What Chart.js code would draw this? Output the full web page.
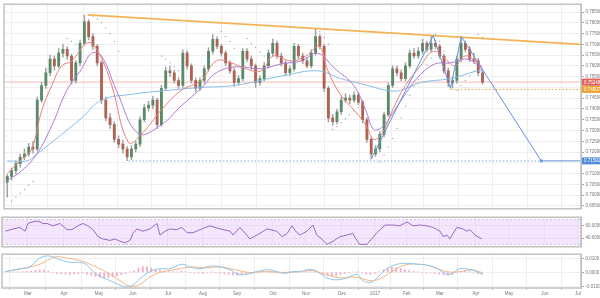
<!DOCTYPE html>
<html>
<head>
<meta charset="utf-8">
<script src="https://cdn.jsdelivr.net/npm/chart.js@4.4.0/dist/chart.umd.min.js"></script>
<style>
  html, body { margin: 0; padding: 0; background: #fff; }
  body { width: 600px; height: 298px; position: relative; overflow: hidden; }
  .pane { position: absolute; left: 0; width: 600px; }
  canvas { display: block; }
</style>
</head>
<body>
<div class="pane" style="top:0;height:213px"><canvas id="mainChart" width="600" height="213"></canvas></div>
<div class="pane" style="top:213px;height:38px"><canvas id="rsiChart" width="600" height="38"></canvas></div>
<div class="pane" style="top:250px;height:48px"><canvas id="macdChart" width="600" height="48"></canvas></div>
<script>
// x axis is in bar index units (one candle per index)
const monthAt = [5.28, 13.66, 21.81, 29.72, 37.86, 46.01, 53.92, 62.30, 69.98, 78.36, 86.04, 93.48, 101.16, 109.54, 117.22, 125.60, 133.28];
const monthNames = ['Mar', 'Apr', 'May', 'Jun', 'Jul', 'Aug', 'Sep', 'Oct', 'Nov', 'Dec', '2017', 'Feb', 'Mar', 'Apr', 'May', 'Jun', 'Jul'];
const X_MIN = -0.77, X_MAX = 134;

// price panel
const priceTicks = [0.695, 0.700, 0.705, 0.710, 0.715, 0.720, 0.725, 0.730, 0.735, 0.740, 0.745, 0.750, 0.755, 0.760, 0.765, 0.770, 0.775, 0.780, 0.785];
const firstOpen = 0.7060;
const closes = [
  .7087, .7114, .7146, .7177, .7191, .7223, .7214, .7441, .7509, .7568,
  .7632, .7600, .7659, .7677, .7646, .7532, .7614, .7705, .7805, .7736,
  .7691, .7614, .7441, .7359, .7327, .7259, .7237, .7214, .7177, .7214,
  .7237, .7350, .7405, .7418, .7441, .7327, .7496, .7577, .7568, .7532,
  .7509, .7659, .7600, .7532, .7496, .7532, .7586, .7668, .7723, .7691,
  .7659, .7614, .7577, .7523, .7541, .7668, .7632, .7600, .7523, .7541,
  .7600, .7659, .7705, .7646, .7614, .7568, .7586, .7691, .7646, .7623,
  .7600, .7659, .7736, .7691, .7496, .7359, .7341, .7387, .7441, .7450,
  .7441, .7464, .7432, .7350, .7259, .7191, .7214, .7282, .7373, .7509,
  .7586, .7568, .7541, .7600, .7659, .7646, .7668, .7705, .7677, .7705,
  .7691, .7646, .7577, .7523, .7532, .7632, .7705, .7677, .7632, .7623,
  .7568, .75248
];
const highs = [
  .7095, .7125, .7160, .7190, .7215, .7240, .7250, .7455, .7525, .7590,
  .7650, .7645, .7680, .7700, .7690, .7655, .7625, .7720, .7836, .7815,
  .7750, .7700, .7625, .7455, .7380, .7340, .7275, .7255, .7225, .7230,
  .7250, .7365, .7420, .7435, .7460, .7450, .7510, .7595, .7600, .7580,
  .7545, .7675, .7670, .7610, .7545, .7545, .7600, .7685, .7745, .7735,
  .7700, .7670, .7625, .7590, .7555, .7680, .7680, .7645, .7610, .7555,
  .7615, .7675, .7725, .7715, .7660, .7625, .7600, .7705, .7700, .7660,
  .7640, .7675, .7773, .7745, .7700, .7505, .7375, .7400, .7455, .7470,
  .7465, .7480, .7475, .7440, .7360, .7270, .7230, .7295, .7385, .7520,
  .7600, .7600, .7580, .7615, .7675, .7680, .7685, .7725, .7715, .7741,
  .7720, .7700, .7655, .7590, .7545, .7645, .7735, .7715, .7690, .7660,
  .7635, .7575
];
const lows = [
  .6990, .7070, .7100, .7130, .7165, .7180, .7195, .7205, .7430, .7495,
  .7555, .7580, .7590, .7640, .7630, .7515, .7520, .7600, .7695, .7720,
  .7675, .7600, .7425, .7345, .7310, .7245, .7220, .7195, .7160, .7165,
  .7200, .7225, .7340, .7390, .7400, .7310, .7320, .7485, .7550, .7520,
  .7495, .7500, .7585, .7520, .7480, .7485, .7520, .7575, .7655, .7680,
  .7645, .7600, .7565, .7505, .7510, .7530, .7620, .7585, .7500, .7510,
  .7530, .7590, .7645, .7635, .7600, .7555, .7555, .7575, .7635, .7610,
  .7590, .7590, .7650, .7680, .7480, .7340, .7325, .7330, .7375, .7430,
  .7425, .7430, .7420, .7335, .7245, .7168, .7180, .7200, .7270, .7365,
  .7500, .7555, .7530, .7530, .7590, .7635, .7635, .7655, .7665, .7665,
  .7680, .7635, .7565, .7505, .7496, .7520, .7620, .7665, .7620, .7610,
  .7555, .7515
];

// moving averages
const redMaAt = [0, 3.4, 5.7, 8.1, 10.4, 12.7, 15.1, 18.1, 19.7, 22.0, 24.4, 28.3, 31.3, 36.0, 40.6, 45.3, 48.8, 52.3, 55.8, 59.3, 62.1, 66.3, 69.8, 72.8, 74.9, 77.9, 81.4, 83.7, 85.6, 87.7, 90.0, 93.0, 96.5, 99.5, 102.3, 104.6, 106.9, 109.3, 111];
const redMa = [.7100, .7168, .7214, .7396, .7509, .7600, .7623, .7700, .7705, .7636, .7509, .7245, .7282, .7396, .7486, .7532, .7623, .7614, .7586, .7577, .7646, .7623, .7646, .7691, .7577, .7464, .7386, .7327, .7259, .7291, .7396, .7509, .7600, .7668, .7632, .7600, .7646, .7623, .7595];
const purpleMaAt = [0, 3.4, 6.9, 10.4, 13.9, 17.4, 19.7, 22.0, 25.5, 30.6, 36.0, 40.6, 45.3, 48.8, 53.5, 59.3, 63.9, 68.6, 72.5, 76.3, 80.9, 83.7, 85.6, 87.7, 90.0, 93.0, 96.5, 100.0, 103.5, 106.9, 109.3, 111];
const purpleMa = [.7068, .7114, .7191, .7323, .7486, .7587, .7659, .7646, .7486, .7286, .7327, .7414, .7496, .7568, .7596, .7587, .7609, .7623, .7659, .7591, .7509, .7396, .7305, .7318, .7380, .7470, .7560, .7610, .7614, .7632, .7614, .7577];
const blueMaAt = [0, 4.6, 6.9, 12.7, 17.4, 22.0, 29.0, 37.2, 45.3, 53.0, 64.6, 72.5, 77.9, 82.5, 88.8, 91.8, 96.5, 103.5, 109.8, 111];
const blueMa = [.7159, .7159, .7191, .7282, .7359, .7441, .7468, .7486, .7500, .7509, .7555, .7577, .7541, .7518, .7486, .7486, .7523, .7541, .7577, .7577];

// parabolic SAR dots
const sarAt = [
  1, 2, 3, 4, 5, 6,
  14, 15, 16,
  20, 21, 22, 23, 24, 25, 26,
  36, 37, 38, 39, 40,
  50, 51, 52, 53,
  56, 57, 58, 59, 60,
  73, 74, 75,
  76, 77, 78, 79, 80, 81, 82,
  87, 88, 89, 90, 91, 92, 93, 94, 95, 96, 97, 98, 99,
  100, 101, 102, 103,
  105, 106, 107, 108, 109,
  110, 111
];
const sarVals = [
  .6973, .6991, .7009, .7027, .7046, .7064,
  .7727, .7714, .7700,
  .7832, .7818, .7800, .7777, .7750, .7714, .7668,
  .7646, .7632, .7614, .7596, .7577,
  .7759, .7736, .7714, .7682,
  .7727, .7705, .7686, .7664, .7646,
  .7759, .7732, .7700,
  .7305, .7318, .7337, .7355, .7373, .7391, .7409,
  .7155, .7187, .7223, .7264, .7309, .7359, .7414, .7464, .7505, .7536, .7568, .7605, .7636,
  .7746, .7714, .7668, .7614,
  .7487, .7509, .7532, .7555, .7577,
  .7746, .7732
];

// drawn studies
const trendAt = [18.78, 134];
const trendVals = [0.78364, 0.77001];
const zigzagAt = [85, 99.5, 103.5, 106.05, 124.7, 134];
const zigzagVals = [0.7168, 0.7741, 0.7496, 0.7736, 0.71591, 0.71591];
const supportAt = [28.3, 124.7];
const lastPrice = 0.75248;
const necklineLevel = 0.74907;
const necklineAt = [103.5, 134];
const targetLevel = 0.71591;

// RSI panel
const rsiTicks = [40, 60];
const rsiUpper = 70, rsiLower = 30;
const rsiAt = [
  0, 1.8, 3.4, 4.6, 5.3, 6.2, 7.4, 8.1, 8.8, 9.7,
  11.1, 12.7, 14.4, 15.5, 16.9, 18.1, 19.2, 20.4, 21.6, 22.7,
  24.4, 25.5, 26.7, 27.9, 29.0, 29.7, 30.6, 32.0, 33.7, 35.3,
  36.0, 37.2, 38.3, 39.9, 41.1, 42.3, 43.7, 45.3, 47.6, 50.0,
  52.3, 53.0, 54.6, 56.2, 56.9, 58.6, 60.9, 63.2, 64.4, 65.6,
  66.7, 67.9, 68.6, 70.2, 71.6, 72.5, 73.2, 74.9, 76.3, 77.9,
  79.5, 80.9, 81.4, 82.5, 84.2, 85.3, 86.5, 88.4, 90.2, 91.8,
  93.5, 94.9, 96.5, 98.1, 99.5, 101.2, 101.9, 102.8, 103.5, 104.2,
  105.1, 106.5, 107.4, 108.2, 109.3, 110.9
];
const rsiVals = [
  51.3, 55.0, 57.5, 51.3, 63.8, 66.3, 67.5, 66.3, 63.8, 63.8,
  60.0, 63.8, 53.8, 53.8, 60.0, 63.8, 60.0, 53.8, 42.5, 38.8,
  36.3, 38.8, 35.0, 32.5, 36.3, 47.5, 55.0, 51.3, 55.0, 63.8,
  45.0, 51.3, 55.0, 53.8, 57.5, 48.8, 48.8, 53.8, 60.0, 55.0,
  51.3, 45.0, 57.5, 45.0, 38.8, 45.0, 55.0, 51.3, 42.5, 47.5,
  60.0, 48.8, 45.0, 51.3, 61.3, 45.0, 41.3, 30.0, 35.0, 42.5,
  45.0, 47.5, 41.3, 30.0, 30.0, 38.8, 48.8, 61.3, 61.3, 60.0,
  66.3, 60.0, 61.3, 60.0, 57.5, 51.3, 42.5, 45.0, 38.8, 47.5,
  57.5, 55.0, 51.3, 53.8, 45.0, 38.8
];

// MACD panel
const macdTicks = [-0.01, 0, 0.01];
const macdAt = [
  0, 3.4, 5.7, 8.1, 10.4, 12.7, 15.1, 17.4, 19.0, 20.4,
  22.0, 24.4, 26.7, 28.3, 29.7, 31.3, 33.7, 36.0, 38.3, 41.1,
  43.0, 45.3, 47.6, 50.0, 52.3, 54.2, 56.2, 58.6, 60.9, 63.2,
  65.1, 66.9, 68.6, 70.2, 71.6, 73.2, 74.9, 77.2, 79.5, 81.9,
  83.2, 84.9, 86.5, 88.8, 91.2, 93.5, 95.8, 98.1, 100.5, 102.8,
  104.2, 105.8, 108.2, 109.8, 110.9
];
const macdVals = [
  .0006, .0026, .0039, .0103, .0116, .0090, .0071, .0071, .0052, .0006,
  -.0026, -.0058, -.0090, -.0103, -.0090, -.0045, .0006, .0026, .0026, .0058,
  .0039, .0026, .0045, .0039, .0019, -.0013, -.0013, .0006, .0019, .0006,
  -.0006, .0006, .0006, .0019, .0019, -.0006, -.0039, -.0052, -.0039, -.0013,
  -.0058, -.0071, -.0039, .0026, .0058, .0065, .0058, .0052, .0026, -.0013,
  -.0006, .0026, .0019, .0006, -.0013
];
const signalAt = [0, 4.6, 8.1, 11.6, 13.9, 17.4, 19.7, 22.0, 24.4, 26.7, 29.0, 31.3, 33.7, 36.0, 39.5, 43.0, 46.5, 50.0, 53.5, 56.9, 60.4, 65.1, 68.6, 71.6, 74.4, 77.9, 81.4, 84.9, 87.2, 90.0, 93.0, 96.5, 99.7, 102.6, 105.8, 108.2, 110.9];
const signalVals = [.0006, .0032, .0058, .0110, .0103, .0084, .0058, .0026, -.0013, -.0058, -.0097, -.0084, -.0032, .0000, .0019, .0039, .0032, .0039, .0019, .0000, .0006, .0000, .0006, .0013, -.0013, -.0039, -.0032, -.0058, -.0045, .0006, .0052, .0058, .0039, .0006, .0006, .0019, .0000];
const histVals = [
  .0003, .0004, .0005, .0004, .0006, .0008, .0010, .0015, .0018, .0016,
  .0010, -.0004, -.0008, -.0010, -.0012, -.0014, -.0010, -.0008, -.0006, -.0012,
  -.0020, -.0028, -.0035, -.0040, -.0036, -.0030, -.0024, -.0016, -.0008, .0002,
  .0012, .0030, .0042, .0040, .0030, .0022, .0016, .0010, .0006, .0004,
  .0002, .0008, .0006, .0000, -.0004, -.0006, -.0008, -.0004, .0002, .0000,
  -.0006, -.0010, -.0014, -.0018, -.0020, -.0016, -.0010, -.0004, .0002, .0006,
  .0008, .0006, .0002, -.0002, -.0004, -.0002, .0002, .0004, .0006, .0004,
  .0006, .0004, .0002, -.0004, -.0012, -.0020, -.0026, -.0024, -.0016, -.0008,
  .0000, .0004, .0002, -.0006, -.0012, -.0014, -.0008, .0006, .0018, .0030,
  .0036, .0034, .0028, .0020, .0014, .0008, .0004, .0000, -.0002, -.0004,
  -.0008, -.0012, -.0018, -.0020, -.0014, -.0004, .0006, .0010, .0006, -.0002,
  -.0008, -.0012
];

const FONT = "'Liberation Sans', Arial, sans-serif";
const TICK_FONT = { family: FONT, size: 4.5 };
const AXIS_W = 19;

const pts = (xs, ys) => xs.map((x, i) => ({ x: x, y: ys[i] }));
const opens = closes.map((c, i) => i === 0 ? firstOpen : closes[i - 1]);
const bodies = closes.map((c, i) => ({ x: i, y: [opens[i], c] }));
const wicks = closes.map((c, i) => ({ x: i, y: [lows[i], highs[i]] }));
const candleColor = ctx => closes[ctx.dataIndex] >= opens[ctx.dataIndex] ? '#5b8a68' : '#ad6254';

function xScale(showLabels) {
  return {
    type: 'linear', min: X_MIN, max: X_MAX, offset: false,
    afterBuildTicks: s => { s.ticks = monthAt.map(v => ({ value: v })); },
    afterFit: s => { s.height = showLabels ? 9 : 0; },
    grid: { color: '#eeeeee', drawTicks: showLabels, tickLength: 2, tickColor: '#bbbbbb' },
    border: { display: false },
    ticks: {
      display: showLabels, autoSkip: false, maxRotation: 0, padding: 1,
      font: TICK_FONT, color: '#777', callback: (v, i) => monthNames[i]
    }
  };
}

function yScale(min, max, tickVals, digits) {
  return {
    position: 'right', min: min, max: max,
    afterBuildTicks: s => { s.ticks = tickVals.map(v => ({ value: v })); },
    afterFit: s => { s.width = AXIS_W; },
    grid: { color: '#efefef', tickLength: 3, tickColor: '#aaaaaa' },
    border: { display: true, color: '#b0b0b0' },
    ticks: { padding: 1.5, font: TICK_FONT, color: '#777', callback: v => Number(v).toFixed(digits) }
  };
}

// grey box around each pane
const frame = {
  id: 'frame',
  afterDraw(chart) {
    const { ctx, chartArea: a } = chart;
    ctx.save();
    ctx.strokeStyle = '#c2c2c2';
    ctx.lineWidth = 1.5;
    ctx.strokeRect(a.left, a.top, a.right - a.left, a.bottom - a.top);
    ctx.restore();
  }
};

// coloured price boxes on the right axis
const tagValues = [lastPrice, necklineLevel, targetLevel];
const tagColors = ['#e0625a', '#f0a12e', '#4f8bd8'];
const priceTags = {
  id: 'priceTags',
  afterDraw(chart) {
    const { ctx, chartArea: a, scales } = chart;
    ctx.save();
    ctx.font = `4.5px ${FONT}`;
    ctx.textBaseline = 'middle';
    tagValues.forEach((v, i) => {
      const py = scales.y.getPixelForValue(v);
      ctx.fillStyle = tagColors[i];
      ctx.fillRect(a.right + 1, py - 3.5, AXIS_W - 1, 7);
      ctx.fillStyle = '#fff';
      ctx.fillText(v.toFixed(5), a.right + 3, py + 0.3);
    });
    ctx.restore();
  }
};

const rsiBand = {
  id: 'rsiBand',
  beforeDatasetsDraw(chart) {
    const { ctx, chartArea: a, scales } = chart;
    const top = scales.y.getPixelForValue(rsiUpper);
    const bot = scales.y.getPixelForValue(rsiLower);
    ctx.save();
    ctx.fillStyle = 'rgba(226, 192, 250, 0.38)';
    ctx.fillRect(a.left, top, a.right - a.left, bot - top);
    ctx.strokeStyle = '#c9a9de';
    ctx.lineWidth = 0.8;
    ctx.setLineDash([2, 2]);
    [top, bot].forEach(p => {
      ctx.beginPath(); ctx.moveTo(a.left, p); ctx.lineTo(a.right, p); ctx.stroke();
    });
    ctx.restore();
  }
};

const baseOptions = (padding, scales) => ({
  responsive: false,
  animation: false,
  events: [],
  layout: { padding: padding },
  plugins: { legend: { display: false }, tooltip: { enabled: false } },
  scales: scales
});

const line = (data, color, extra) => Object.assign({
  type: 'line', data: data, borderColor: color, borderWidth: 1,
  pointRadius: 0, tension: 0.4, fill: false
}, extra || {});

new Chart(document.getElementById('mainChart'), {
  type: 'line',
  data: {
    datasets: [
      line(pts(zigzagAt, zigzagVals), '#5f93da', {
        tension: 0, borderWidth: 1,
        pointRadius: ctx => ctx.dataIndex === 4 ? 1.8 : 0,
        pointStyle: 'rect', pointBackgroundColor: '#5f93da', pointBorderWidth: 0
      }),
      line(pts(trendAt, trendVals), '#f5b354', { tension: 0, borderWidth: 1.8 }),
      line(pts(redMaAt, redMa), '#e8817c'),
      line(pts(purpleMaAt, purpleMa), '#b07ad6'),
      line(pts(blueMaAt, blueMa), '#86bfe6'),
      {
        type: 'scatter', data: pts(sarAt, sarVals), showLine: false,
        pointRadius: 0.6, pointBackgroundColor: '#8a8a8a', pointBorderWidth: 0
      },
      {
        type: 'bar', data: bodies, backgroundColor: candleColor,
        barThickness: 2.2, grouped: false, borderWidth: 0
      },
      {
        type: 'bar', data: wicks, backgroundColor: '#a0a0a0',
        barThickness: 0.8, grouped: false, borderWidth: 0
      },
      line(pts(supportAt, [targetLevel, targetLevel]), '#8fb2e3', { tension: 0, borderDash: [1.5, 2] }),
      line(pts(necklineAt, [necklineLevel, necklineLevel]), '#f0a12e', { tension: 0, borderDash: [1.5, 2] }),
      line(pts([X_MIN, X_MAX], [lastPrice, lastPrice]), '#f3b9b5', { tension: 0 })
    ]
  },
  options: baseOptions({ left: 2, top: 2, right: 0, bottom: 2 }, {
    x: xScale(false),
    y: yScale(0.69365, 0.78864, priceTicks, 5)
  }),
  plugins: [frame, priceTags]
});

new Chart(document.getElementById('rsiChart'), {
  type: 'line',
  data: { datasets: [line(pts(rsiAt, rsiVals), '#9a68c2', { tension: 0 })] },
  options: baseOptions({ left: 2, top: 1, right: 0, bottom: 1 }, {
    x: xScale(false),
    y: yScale(26, 74, rsiTicks, 4)
  }),
  plugins: [rsiBand, frame]
});

new Chart(document.getElementById('macdChart'), {
  type: 'line',
  data: {
    datasets: [
      line(pts(macdAt, macdVals), '#8cc6ec', { tension: 0.4 }),
      line(pts(signalAt, signalVals), '#f3b585', { tension: 0.4 }),
      {
        type: 'bar', data: histVals.map((v, i) => ({ x: i, y: v })),
        backgroundColor: '#f2a7c1', barThickness: 1, grouped: false, borderWidth: 0
      }
    ]
  },
  options: baseOptions({ left: 2, top: 1, right: 0, bottom: 1 }, {
    x: xScale(true),
    y: yScale(-0.011, 0.0129, macdTicks, 4)
  }),
  plugins: [frame]
});
</script>
</body>
</html>
